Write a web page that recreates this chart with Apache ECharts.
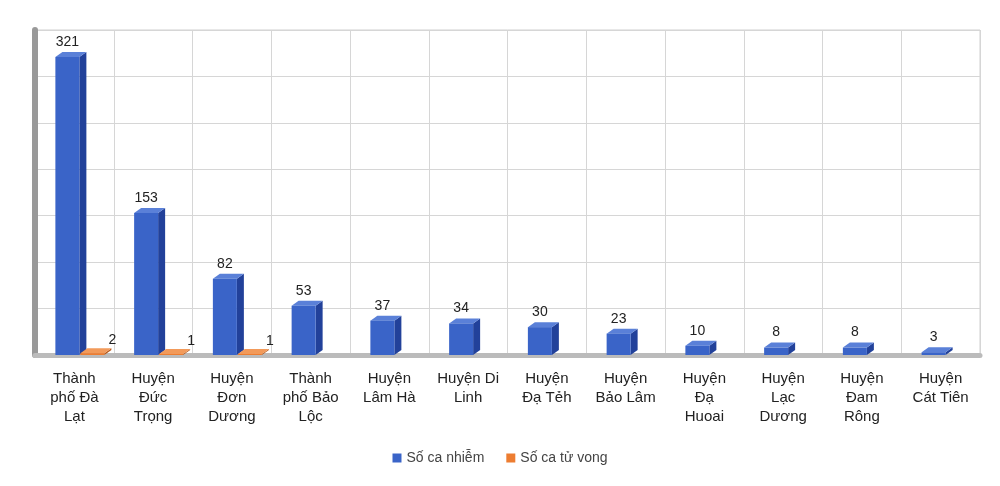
<!DOCTYPE html>
<html><head><meta charset="utf-8">
<script src="https://cdn.jsdelivr.net/npm/echarts@6/dist/echarts.min.js"></script>
<style>html,body{margin:0;padding:0;background:#fff}#c{width:1000px;height:486px}</style>
</head><body><div id="c"></div>
<script>
const categories = ["Thành\nphố Đà\nLạt","Huyện\nĐức\nTrọng","Huyện\nĐơn\nDương","Thành\nphố Bảo\nLộc","Huyện\nLâm Hà","Huyện Di\nLinh","Huyện\nĐạ Tẻh","Huyện\nBảo Lâm","Huyện\nĐạ\nHuoai","Huyện\nLạc\nDương","Huyện\nĐam\nRông","Huyện\nCát Tiên"];
const infected = [321,153,82,53,37,34,30,23,10,8,8,3];
const deaths = [2,1,1,0,0,0,0,0,0,0,0,0];

function bar3d(offset, front, side, top, showZero){
  return function(params, api){
    const i = api.value(0), v = api.value(1);
    if (!v && !showZero) return;
    const base = api.coord([i, 0]);
    const tp = api.coord([i, v]);
    const x0 = base[0] + offset, w = 24, dx = 7, dy = -5;
    const y0 = base[1], y1 = Math.min(tp[1], y0 - 1);
    return {type:'group', children:[
      {type:'polygon', shape:{points:[[x0+w,y1],[x0+w+dx,y1+dy],[x0+w+dx,y0+dy],[x0+w,y0]]}, style:{fill:side}},
      {type:'polygon', shape:{points:[[x0,y1],[x0+dx,y1+dy],[x0+w+dx,y1+dy],[x0+w,y1]]}, style:{fill:top}},
      {type:'rect', shape:{x:x0, y:y1, width:w, height:y0-y1}, style:{fill:front}},
      {type:'text', style:{text:String(v), x: offset<0 ? x0+w/2 : x0+w+8, y: offset<0 ? y1-8 : y1-6, align:'center', verticalAlign:'bottom', fontSize:14, fill:'#222', fontFamily:'Liberation Sans'}}
    ]};
  };
}
const chart = echarts.init(document.getElementById('c'));
chart.setOption({
  backgroundColor:'#fff',
  textStyle:{fontFamily:'Liberation Sans'},
  grid:{left:35, right:20, top:30, bottom:131, show:true, backgroundColor:'#fff', borderColor:'#d0d0d0'},
  xAxis:{type:'category', data:categories, axisTick:{show:false}, axisLine:{lineStyle:{color:'#bbb', width:5}},
    splitLine:{show:true, lineStyle:{color:'#d6d6d6'}},
    axisLabel:{interval:0, color:'#222', fontSize:15, lineHeight:19, margin:14}},
  yAxis:{type:'value', min:0, max:350, interval:50, axisLabel:{show:false}, axisLine:{show:true, lineStyle:{color:'#999', width:6}},
    splitLine:{lineStyle:{color:'#d6d6d6'}}},
  legend:{bottom:16, left:'center', itemWidth:9, itemHeight:9, icon:'rect', itemGap:22, textStyle:{fontSize:14, color:'#444'},
    data:['Số ca nhiễm','Số ca tử vong']},
  series:[
    {name:'Số ca nhiễm', type:'custom', color:'#3a64c8', renderItem:bar3d(-19,'#3a64c8','#22419a','#5a80d8',false), data:infected.map((v,i)=>[i,v]), encode:{x:0,y:1}},
    {name:'Số ca tử vong', type:'custom', color:'#ed7d31', renderItem:bar3d(6,'#ed7d31','#b85a1c','#f29a5a',false), data:deaths.map((v,i)=>[i,v]), encode:{x:0,y:1}}
  ]
});
</script></body></html>
